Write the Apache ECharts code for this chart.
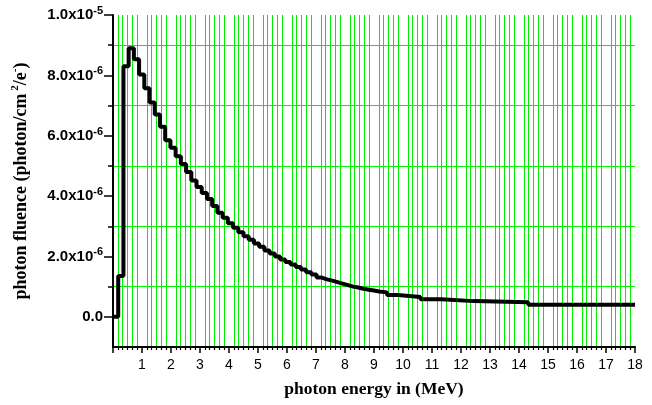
<!DOCTYPE html>
<html>
<head>
<meta charset="utf-8">
<script src="https://cdn.jsdelivr.net/npm/echarts@6/dist/echarts.min.js"></script>
<style>
  html, body { margin: 0; padding: 0; background: #fff; }
  #chart { width: 652px; height: 405px; }
</style>
</head>
<body>
<div id="chart"></div>
<script>
// bin start energies (MeV) and fluence of each bin (x1e-6 photon/cm2/e-)
var binStart = [0, 0.18, 0.36, 0.54, 0.72, 0.90, 1.08, 1.26, 1.44, 1.62,
  1.80, 1.98, 2.16, 2.34, 2.52, 2.70, 2.88, 3.06, 3.24, 3.42,
  3.60, 3.78, 3.96, 4.14, 4.32, 4.50, 4.68, 4.86, 5.04, 5.22,
  5.40, 5.58, 5.76, 5.94, 6.12, 6.30, 6.48, 6.66, 6.84, 7.02,
  7.20, 7.38, 7.56, 7.74, 7.92, 8.10, 8.28, 8.46, 8.64, 8.82,
  9.00, 9.18, 9.45, 9.82, 10.6, 11.32, 12.43, 14.32, 18];
var fluence = [0, 1.35, 8.3, 8.9, 8.53, 8.03, 7.57, 7.1, 6.7, 6.3,
  5.85, 5.6, 5.32, 5.06, 4.8, 4.52, 4.3, 4.1, 3.9, 3.67,
  3.45, 3.28, 3.1, 2.95, 2.8, 2.67, 2.55, 2.43, 2.32, 2.2,
  2.1, 2.0, 1.9, 1.82, 1.73, 1.65, 1.57, 1.48, 1.4, 1.3,
  1.24, 1.2, 1.15, 1.1, 1.05, 1.0, 0.97, 0.93, 0.9, 0.87,
  0.84, 0.81, 0.72, 0.66, 0.58, 0.52, 0.48, 0.40, 0.40];

// labelled y ticks (every 2e-6), the rest are minor ticks with green grid lines
var yMajorTicks = [0, 2e-6, 4e-6, 6e-6, 8e-6, 1e-5];

var xMin = 0, xMax = 18, xStep = 1;
var yMin = -1e-6, yMax = 1e-5, yStep = 1e-6;

var chart = echarts.init(document.getElementById('chart'));

var seriesData = [];
for (var i = 0; i < binStart.length; i++) {
  seriesData.push([binStart[i], fluence[i] * 1e-6]);
}

// "8.0x10^-6" style label, only on major ticks
function sciLabel(v) {
  var k = Math.round(v / 1e-6);
  if (k % 2 !== 0) return '';
  if (k === 0) return '{m|0.0}';
  var e = k >= 10 ? -5 : -6;
  var m = k >= 10 ? k / 10 : k;
  return '{m|' + m.toFixed(1) + 'x10}{e|' + e + '}';
}

var green = '#00ee00';

var option = {
  animation: false,
  grid: { left: 113, right: 17, top: 15, bottom: 58, outerBoundsMode: 'none', containLabel: false },
  xAxis: {
    type: 'value',
    min: xMin, max: xMax, interval: xStep,
    name: 'photon energy in (MeV)',
    nameLocation: 'middle',
    nameGap: 33,
    nameTextStyle: { fontFamily: 'Liberation Serif', fontWeight: 'bold', fontSize: 17.5, color: '#000' },
    axisLine: { onZero: false, lineStyle: { color: '#000', width: 2 } },
    axisTick: { length: 6, lineStyle: { color: '#000', width: 1.5 } },
    minorTick: { show: true, splitNumber: 6, length: 3, lineStyle: { color: '#000', width: 1.2 } },
    splitLine: { show: false },
    minorSplitLine: { show: true, lineStyle: { color: green, width: 1 } },
    axisLabel: {
      showMinLabel: false,
      fontFamily: 'Liberation Sans', fontSize: 14, color: '#000', margin: 11
    }
  },
  yAxis: [{
    type: 'value',
    position: 'left',
    min: yMin, max: yMax, interval: yStep,
    name: '{a|photon fluence (photon/cm}{s| 2}{a|/e}{s|-}{a|)}',
    nameLocation: 'middle',
    nameGap: 81,
    nameRotate: 90,
    nameTextStyle: {
      rich: {
        a: { fontFamily: 'Liberation Serif', fontWeight: 'bold', fontSize: 18, color: '#000' },
        s: { fontFamily: 'Liberation Serif', fontWeight: 'bold', fontSize: 11, color: '#000', padding: [0, 0, 11, 0] }
      }
    },
    axisLine: { lineStyle: { color: '#000', width: 2 } },
    axisTick: { length: 5, lineStyle: { color: '#000', width: 1.5 } },
    splitLine: {
      show: true,
      showMinLine: false,
      showMaxLine: false,
      // odd multiples of 1e-6 get a green line, even ones none
      lineStyle: { color: ['rgba(0,0,0,0)', green], width: 1 }
    },
    axisLabel: {
      showMinLabel: false,
      margin: 10,
      formatter: sciLabel,
      rich: {
        m: { fontFamily: 'Liberation Sans', fontWeight: 'bold', fontSize: 15, color: '#000' },
        e: { fontFamily: 'Liberation Sans', fontWeight: 'bold', fontSize: 11, color: '#000', padding: [0, 0, 8, 0] }
      }
    }
  }, {
    // long ticks on the labelled values
    type: 'value',
    position: 'left',
    min: yMin, max: yMax, interval: yStep,
    axisLine: { show: false },
    axisLabel: { show: false },
    splitLine: { show: false },
    axisTick: { show: true, length: 9, customValues: yMajorTicks, lineStyle: { color: '#000', width: 1.5 } }
  }],
  series: [{
    type: 'line',
    step: 'end',
    data: seriesData,
    showSymbol: false,
    lineStyle: { color: '#000', width: 4 },
    z: 5
  }]
};

chart.setOption(option);
</script>
</body>
</html>
